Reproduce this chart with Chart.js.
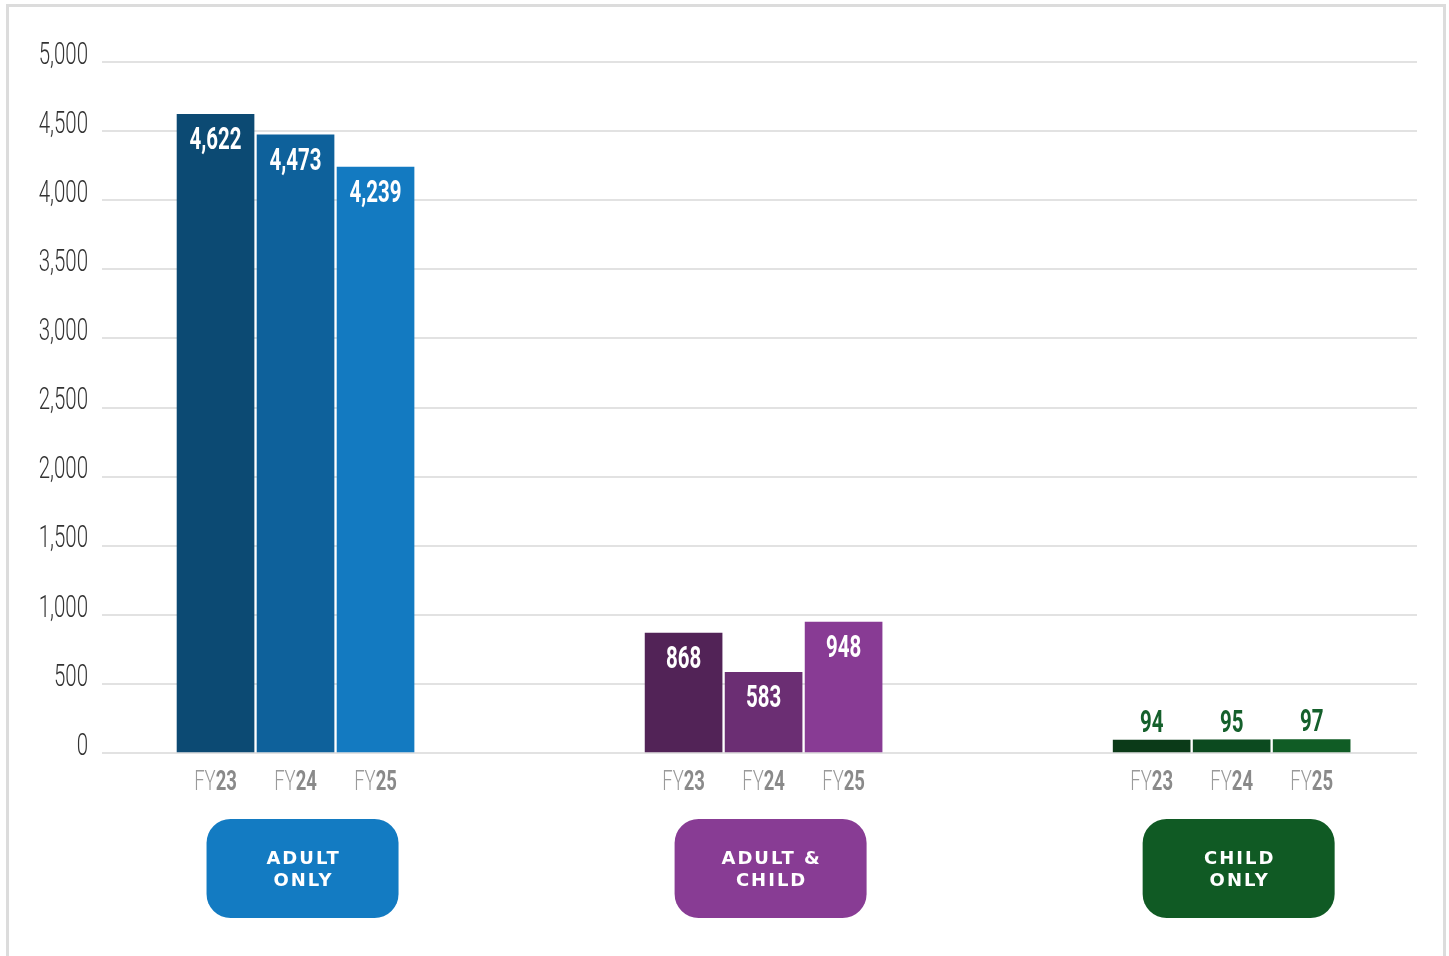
<!DOCTYPE html>
<html>
<head>
<meta charset="utf-8">
<script src="https://cdn.jsdelivr.net/npm/chart.js@4.4.1/dist/chart.umd.min.js"></script>
<style>
  html, body { margin: 0; padding: 0; background: #fff; }
  #wrap { position: relative; width: 1449px; height: 956px; overflow: hidden; }
  #frame { position: absolute; left: 6px; top: 4px; width: 1434px; height: 1000px;
           border: 3px solid #dcdcdc; pointer-events: none; }
  canvas { position: absolute; left: 0; top: 0; }
</style>
</head>
<body>
<div id="wrap">
  <canvas id="chart" width="1449" height="956"></canvas>
  <div id="frame"></div>
</div>
<script>
// groups along the x axis, each with one bar per fiscal year
const groupNames = [['ADULT', 'ONLY'], ['ADULT &', 'CHILD'], ['CHILD', 'ONLY']];
const years = ['FY23', 'FY24', 'FY25'];
const fy23 = [4622, 868, 94];
const fy24 = [4473, 583, 95];
const fy25 = [4239, 948, 97];
const yTicks = [0, 500, 1000, 1500, 2000, 2500, 3000, 3500, 4000, 4500, 5000];

// shades per year (rows) and group (columns), darkest for FY23
const barColors = [
    ['#0c4a73', '#522357', '#0b3a18'],
    ['#0e619b', '#6b2e73', '#0c4a1f'],
    ['#137ac1', '#883b94', '#105c25']
];
const pillColors = ['#137bc2', '#883c94', '#105a24'];
const outsideLabelColors = ['#137bc2', '#883c94', '#15602c'];

const seriesValues = [fy23, fy24, fy25];

const SQUEEZE = 0.66; // narrow type

function drawNarrow(ctx, text, x, y, font, color, align) {
    ctx.save();
    ctx.font = font;
    ctx.fillStyle = color;
    ctx.textBaseline = 'middle';
    const w = ctx.measureText(text).width * SQUEEZE;
    let left = x;
    if (align === 'center') left = x - w / 2;
    if (align === 'right') left = x - w;
    ctx.translate(left, y);
    ctx.scale(SQUEEZE, 1);
    ctx.textAlign = 'left';
    ctx.fillText(text, 0, 0);
    ctx.restore();
}

const overlayPlugin = {
    id: 'overlay',
    afterDatasetsDraw(chart) {
        const ctx = chart.ctx;
        const area = chart.chartArea;
        const yScale = chart.scales.y;
        const xScale = chart.scales.x;

        // y tick labels
        yTicks.forEach(v => {
            const py = yScale.getPixelForValue(v);
            drawNarrow(ctx, v.toLocaleString('en-US'), area.left - 14, py - 6,
                '300 31px Roboto', '#333', 'right');
        });

        chart.data.datasets.forEach((ds, di) => {
            const meta = chart.getDatasetMeta(di);
            meta.data.forEach((bar, gi) => {
                const value = ds.data[gi].y;
                const label = value.toLocaleString('en-US');
                const h = bar.base - bar.y;
                if (h > 40) {
                    drawNarrow(ctx, label, bar.x, bar.y + 27, 'bold 31px Roboto', '#fff', 'center');
                } else {
                    drawNarrow(ctx, label, bar.x, bar.y - 16, 'bold 31px Roboto', outsideLabelColors[gi], 'center');
                }

                // FY label under each bar: light prefix, bold year
                const prefix = years[di].slice(0, 2);
                const yr = years[di].slice(2);
                ctx.save();
                ctx.font = '300 28px Roboto';
                const w1 = ctx.measureText(prefix).width * SQUEEZE;
                ctx.font = 'bold 28px Roboto';
                const w2 = ctx.measureText(yr).width * SQUEEZE;
                ctx.restore();
                const start = bar.x - (w1 + w2) / 2;
                drawNarrow(ctx, prefix, start, area.bottom + 30, '300 28px Roboto', '#9a9a9a', 'left');
                drawNarrow(ctx, yr, start + w1, area.bottom + 30, 'bold 28px Roboto', '#8a8a8a', 'left');
            });
        });

        // group name pills
        groupNames.forEach((lines, gi) => {
            const cx = xScale.getPixelForValue(gi) + 7;
            const top = area.bottom + 66;
            const w = 192, h = 99;
            ctx.save();
            ctx.fillStyle = pillColors[gi];
            ctx.beginPath();
            ctx.roundRect(cx - w / 2, top, w, h, 24);
            ctx.fill();
            ctx.fillStyle = '#fff';
            ctx.font = 'bold 18px "DejaVu Sans"';
            ctx.letterSpacing = '2px';
            ctx.textAlign = 'center';
            ctx.textBaseline = 'middle';
            lines.forEach((t, li) => {
                ctx.fillText(t, cx + 1, top + 40 + li * 22);
            });
            ctx.restore();
        });
    }
};

const ctx = document.getElementById('chart').getContext('2d');
const chart = new Chart(ctx, {
    type: 'bar',
    data: {
        datasets: years.map((yr, di) => ({
            label: yr,
            data: seriesValues[di].map((v, gi) => ({ x: gi, y: v })),
            backgroundColor: barColors[di],
            borderWidth: 0,
            barThickness: 80,
            maxBarThickness: 77
        }))
    },
    options: {
        responsive: false,
        animation: false,
        layout: { padding: { left: 0, right: 32, top: 62, bottom: 203 } },
        plugins: {
            legend: { display: false },
            tooltip: { enabled: false }
        },
        scales: {
            x: {
                type: 'linear',
                display: false,
                offset: false,
                min: -0.4135,
                max: 2.396
            },
            y: {
                min: 0,
                max: 5000,
                ticks: { display: false, stepSize: 500 },
                border: { display: false },
                grid: { color: '#e2e2e2', lineWidth: 2, drawTicks: false },
                afterFit: scale => { scale.width = 102; }
            }
        }
    },
    plugins: [overlayPlugin]
});
</script>
</body>
</html>
